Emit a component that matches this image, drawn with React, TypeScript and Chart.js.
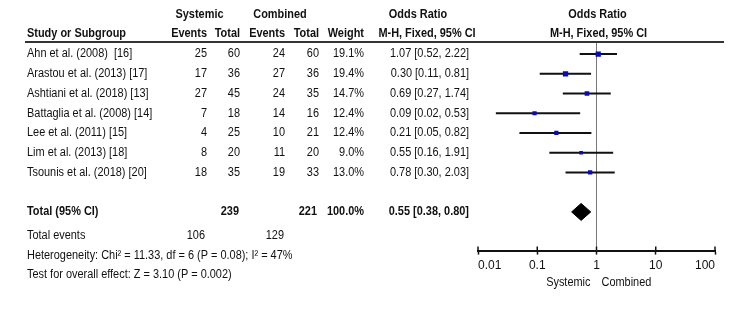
import React, { useEffect, useRef } from "react";
import { Chart, registerables } from "chart.js";

Chart.register(...registerables);

// ---------- data ----------
const studies = [
  "Ahn et al. (2008)  [16]",
  "Arastou et al. (2013) [17]",
  "Ashtiani et al. (2018) [13]",
  "Battaglia et al. (2008) [14]",
  "Lee et al. (2011) [15]",
  "Lim et al. (2013) [18]",
  "Tsounis et al. (2018) [20]",
];
const sysEvents = [25, 17, 27, 7, 4, 8, 18];
const sysTotal = [60, 36, 45, 18, 25, 20, 35];
const comEvents = [24, 27, 24, 14, 10, 11, 19];
const comTotal = [60, 36, 35, 16, 21, 20, 33];
const weights = [19.1, 19.4, 14.7, 12.4, 12.4, 9.0, 13.0];
const oddsRatios = [1.07, 0.3, 0.69, 0.09, 0.21, 0.55, 0.78];
const ciLower = [0.52, 0.11, 0.27, 0.02, 0.05, 0.16, 0.3];
const ciUpper = [2.22, 0.81, 1.74, 0.53, 0.82, 1.91, 2.03];

const totalLabel = "Total (95% CI)";
const totalSys = 239;
const totalCom = 221;
const totalWeight = 100.0;
const totalOR = 0.55;
const totalLower = 0.38;
const totalUpper = 0.8;
const totalEventsSys = 106;
const totalEventsCom = 129;
const heterogeneityText = "Heterogeneity: Chi² = 11.33, df = 6 (P = 0.08); I² = 47%";
const overallEffectText = "Test for overall effect: Z = 3.10 (P = 0.002)";

const xTickValues = [0.01, 0.1, 1, 10, 100];
const xTickLabels = ["0.01", "0.1", "1", "10", "100"];
const favoursLeft = "Systemic";
const favoursRight = "Combined";

// ---------- layout (row units on the hidden y scale) ----------
const TOTAL_ROW = 8;
const Y_MIN = -0.61;
const Y_MAX = 9.96;
const DIAMOND_HALF = 0.43;

const FONT = "'Liberation Sans', Arial, sans-serif";
const FS = 12.5;
const SX = 0.875; // horizontal condensing of the table text
const TEXT = "#111";

const fmt2 = (v: number) => v.toFixed(2);
const orText = (o: number, l: number, u: number) => `${fmt2(o)} [${fmt2(l)}, ${fmt2(u)}]`;

const tablePlugin = {
  id: "forestTable",
  afterDraw(chart: any) {
    const { ctx, chartArea } = chart;
    const y = chart.scales.y;
    const x = chart.scales.x;
    const py = (r: number) => y.getPixelForValue(r);
    ctx.save();
    ctx.fillStyle = TEXT;
    ctx.textBaseline = "middle";
    const draw = (s: string, px: number, pyy: number, align: CanvasTextAlign, bold = false) => {
      ctx.save();
      ctx.font = `${bold ? "bold " : ""}${FS}px ${FONT}`;
      ctx.textAlign = align;
      ctx.translate(px, pyy);
      ctx.scale(SX, 1);
      ctx.fillText(s, 0, 0);
      ctx.restore();
    };
    const text = (s: string, px: number, r: number, align: CanvasTextAlign, bold = false) =>
      draw(s, px, py(r), align, bold);

    // header line
    ctx.strokeStyle = "#333";
    ctx.lineWidth = 2;
    ctx.beginPath();
    ctx.moveTo(25, chartArea.top);
    ctx.lineTo(724, chartArea.top);
    ctx.stroke();

    // headers
    const h1 = -1.98;
    const h2 = -1.02;
    text("Systemic", 199.5, h1, "center", true);
    text("Combined", 280, h1, "center", true);
    text("Odds Ratio", 418, h1, "center", true);
    text("Odds Ratio", x.getPixelForValue(1) + 1, h1, "center", true);
    text("Study or Subgroup", 27, h2, "left", true);
    text("Events", 207, h2, "right", true);
    text("Total", 240, h2, "right", true);
    text("Events", 285, h2, "right", true);
    text("Total", 319, h2, "right", true);
    text("Weight", 364, h2, "right", true);
    text("M-H, Fixed, 95% CI", 427, h2, "center", true);
    text("M-H, Fixed, 95% CI", x.getPixelForValue(1) + 2, h2, "center", true);

    // study rows
    studies.forEach((s, i) => {
      text(s, 27, i, "left");
      text(String(sysEvents[i]), 207, i, "right");
      text(String(sysTotal[i]), 240, i, "right");
      text(String(comEvents[i]), 285, i, "right");
      text(String(comTotal[i]), 319, i, "right");
      text(`${weights[i].toFixed(1)}%`, 364, i, "right");
      text(orText(oddsRatios[i], ciLower[i], ciUpper[i]), 469, i, "right");
    });

    // total row
    text(totalLabel, 27, TOTAL_ROW, "left", true);
    text(String(totalSys), 239, TOTAL_ROW, "right", true);
    text(String(totalCom), 317, TOTAL_ROW, "right", true);
    text(`${totalWeight.toFixed(1)}%`, 364, TOTAL_ROW, "right", true);
    text(orText(totalOR, totalLower, totalUpper), 469, TOTAL_ROW, "right", true);

    text("Total events", 27, 9.19, "left");
    text(String(totalEventsSys), 205, 9.19, "right");
    text(String(totalEventsCom), 284, 9.19, "right");
    text(heterogeneityText, 27, 10.2, "left");
    text(overallEffectText, 27, 11.17, "left");

    // upward tick marks on the axis
    ctx.strokeStyle = "#111";
    ctx.lineWidth = 1.5;
    xTickValues.forEach((v) => {
      const px = x.getPixelForValue(v);
      ctx.beginPath();
      ctx.moveTo(px, chartArea.bottom);
      ctx.lineTo(px, chartArea.bottom - 4);
      ctx.stroke();
    });

    // favours labels
    const fy = chartArea.bottom + 31.5;
    draw(favoursLeft, x.getPixelForValue(1) - 6, fy, "right");
    draw(favoursRight, x.getPixelForValue(1) + 5, fy, "left");
    ctx.restore();
  },
};

export default function App() {
  const ref = useRef<HTMLCanvasElement | null>(null);
  useEffect(() => {
    if (!ref.current) return;
    const whiskers = studies.map((_, i) => ({
      type: "scatter" as const,
      data: [
        { x: ciLower[i], y: i },
        { x: ciUpper[i], y: i },
      ],
      showLine: true,
      borderColor: "#111",
      borderWidth: 2,
      pointRadius: 0,
      order: 2,
    }));
    const chart = new Chart(ref.current, {
      type: "scatter",
      data: {
        datasets: [
          {
            data: [
              { x: 1, y: Y_MIN },
              { x: 1, y: Y_MAX },
            ],
            showLine: true,
            borderColor: "#777",
            borderWidth: 1,
            pointRadius: 0,
            order: 3,
          },
          ...whiskers,
          {
            data: oddsRatios.map((o, i) => ({ x: o, y: i })),
            pointStyle: "rect",
            pointRadius: weights.map((w) => (1.2 * Math.sqrt(w)) / Math.SQRT2),
            backgroundColor: "#0b0bb5",
            borderColor: "#0b0bb5",
            borderWidth: 0,
            order: 1,
          },
          {
            data: [
              { x: totalLower, y: TOTAL_ROW },
              { x: totalOR, y: TOTAL_ROW - DIAMOND_HALF },
              { x: totalUpper, y: TOTAL_ROW },
              { x: totalOR, y: TOTAL_ROW + DIAMOND_HALF },
              { x: totalLower, y: TOTAL_ROW },
            ],
            showLine: true,
            fill: "shape",
            backgroundColor: "#000",
            borderColor: "#000",
            borderWidth: 1,
            pointRadius: 0,
            order: 1,
          },
        ] as any,
      },
      options: {
        animation: false,
        responsive: true,
        maintainAspectRatio: false,
        layout: { padding: { left: 478, right: 35, top: 42, bottom: 36 } },
        plugins: { legend: { display: false }, tooltip: { enabled: false } },
        scales: {
          x: {
            type: "logarithmic",
            min: 0.01,
            max: 100,
            position: "bottom",
            afterBuildTicks: (scale: any) => {
              scale.ticks = xTickValues.map((v) => ({ value: v }));
            },
            ticks: {
              callback: (_v: any, idx: number) => xTickLabels[idx],
              autoSkip: false,
              maxRotation: 0,
              align: "inner",
              color: TEXT,
              font: { family: FONT, size: 12 },
              padding: 4,
            },
            grid: { drawOnChartArea: false, drawTicks: true, tickLength: 4, tickColor: "#111", tickWidth: 1.5 },
            border: { color: "#111", width: 2 },
          },
          y: { type: "linear", min: Y_MIN, max: Y_MAX, reverse: true, display: false },
        },
      } as any,
      plugins: [tablePlugin],
    });
    return () => chart.destroy();
  }, []);
  return (
    <div style={{ position: "absolute", left: 0, top: 0, width: 750, height: 313, background: "#fff" }}>
      <canvas ref={ref} />
    </div>
  );
}
